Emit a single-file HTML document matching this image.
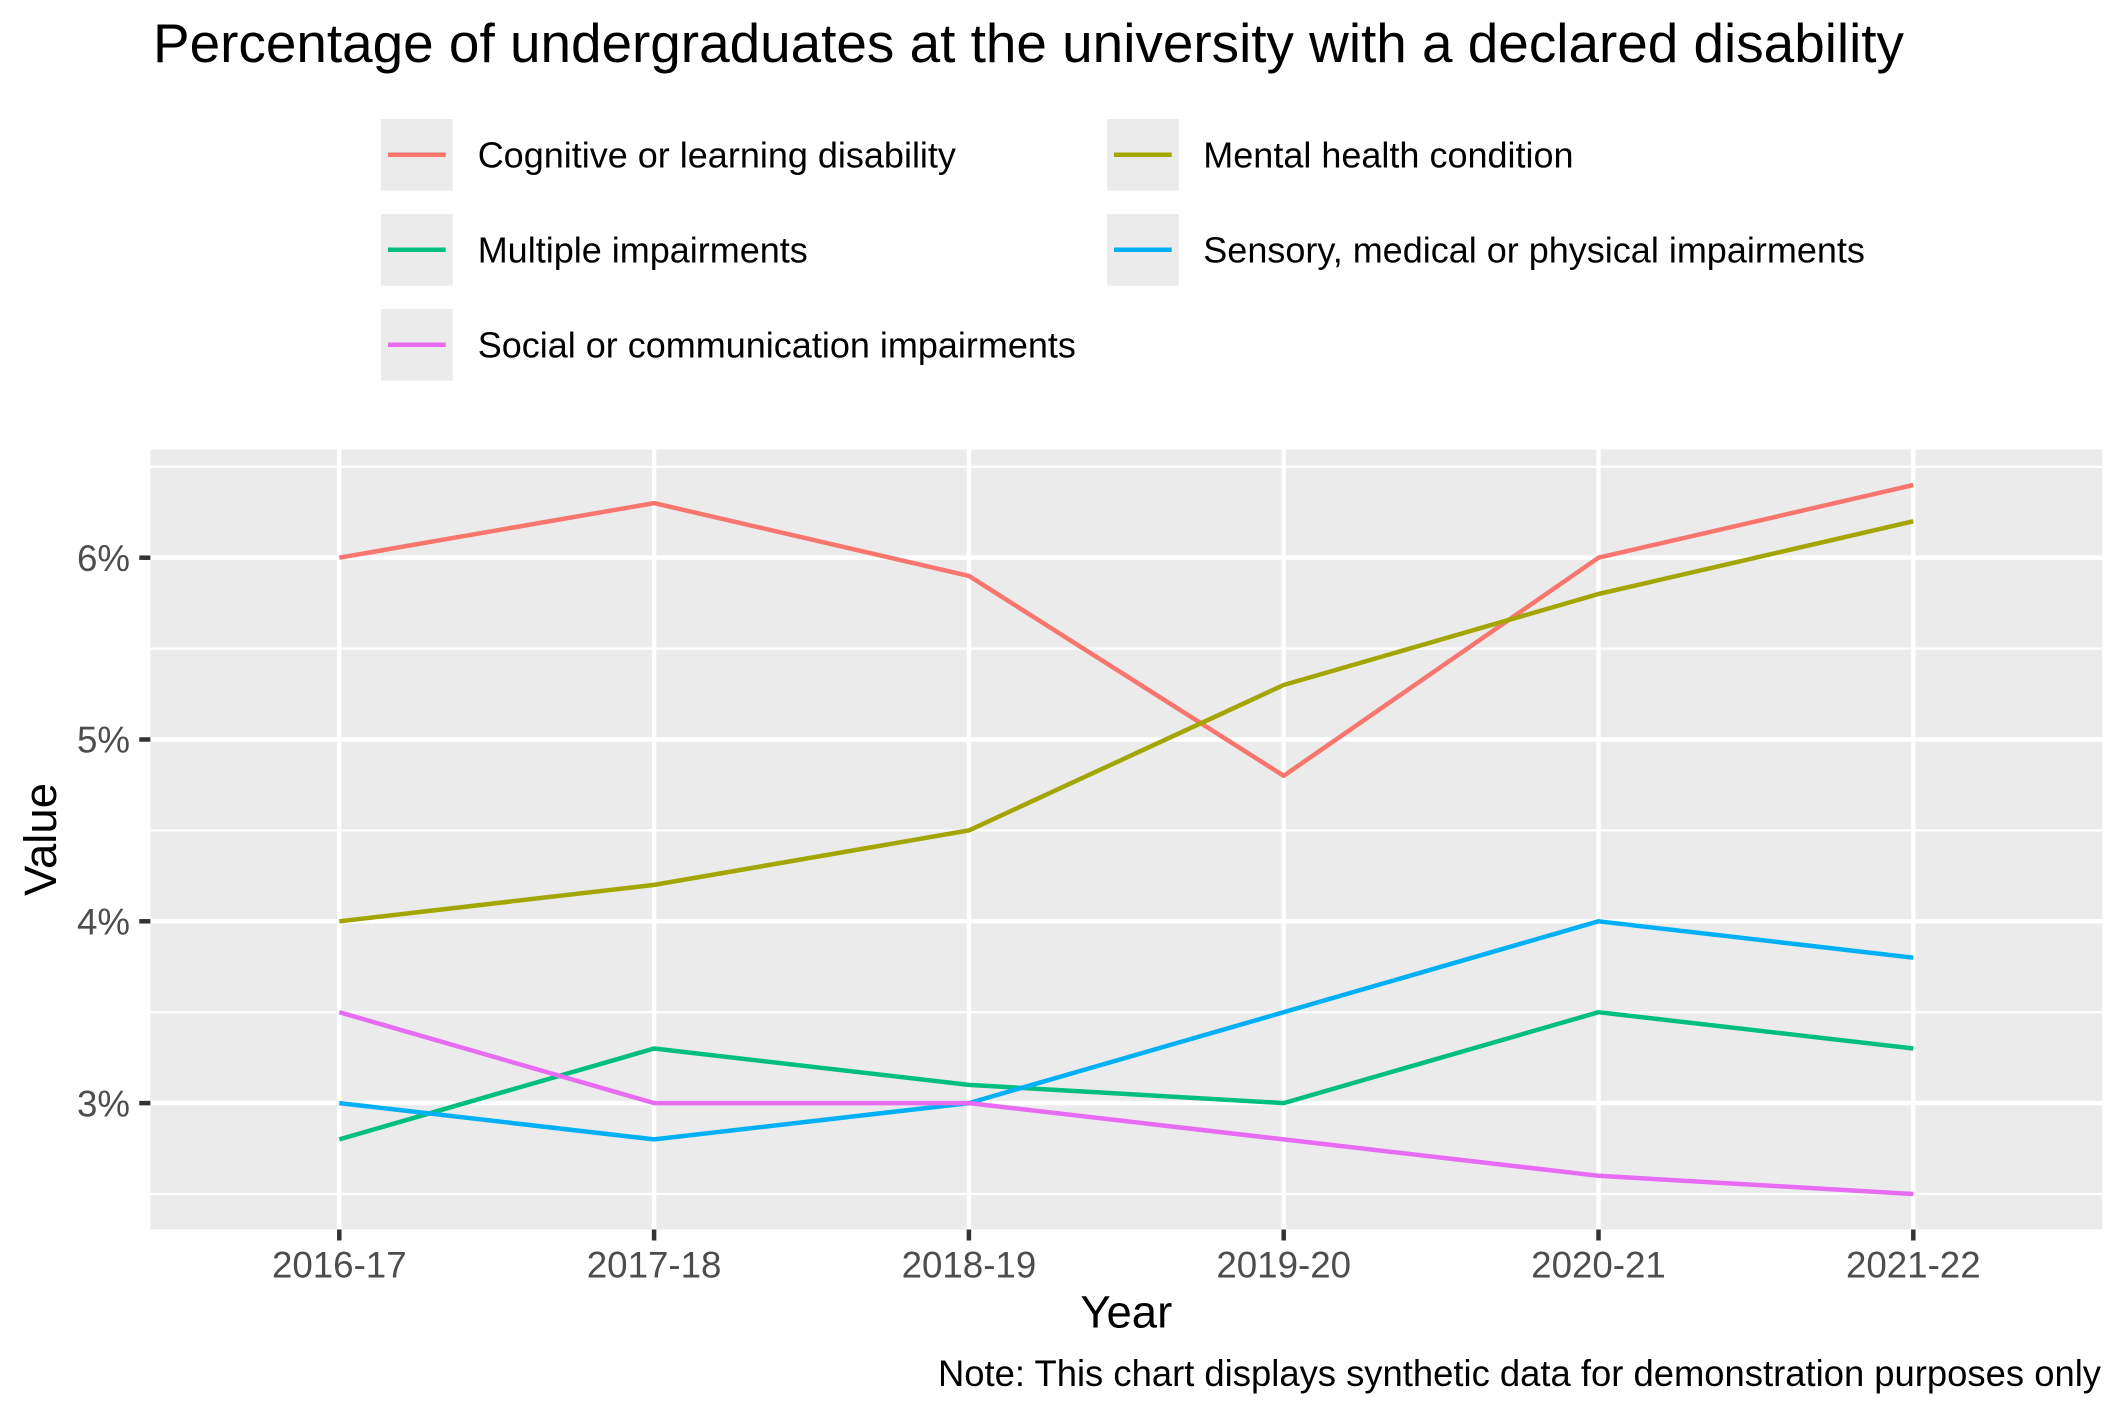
<!DOCTYPE html>
<html><head><meta charset="utf-8"><style>
html,body{margin:0;padding:0;background:#fff;}
svg{display:block;}
text{font-family:"Liberation Sans",Arial,sans-serif;}
</style></head><body>
<svg width="2125" height="1417" viewBox="0 0 2125 1417" xmlns="http://www.w3.org/2000/svg">
<rect x="0" y="0" width="2125" height="1417" fill="#fff"/>
<text x="153" y="62" font-size="54.5" fill="#000" textLength="1751" lengthAdjust="spacingAndGlyphs">Percentage of undergraduates at the university with a declared disability</text>

<!-- Legend -->
<g>
<rect x="381" y="119" width="71.7" height="71.7" fill="#EBEBEB"/>
<line x1="388" y1="154.8" x2="445.7" y2="154.8" stroke="#F8766D" stroke-width="4.5"/>
<text x="477.7" y="167.7" font-size="36" fill="#000">Cognitive or learning disability</text>
<rect x="381" y="214" width="71.7" height="71.7" fill="#EBEBEB"/>
<line x1="388" y1="249.8" x2="445.7" y2="249.8" stroke="#00BF7D" stroke-width="4.5"/>
<text x="477.7" y="262.7" font-size="36" fill="#000">Multiple impairments</text>
<rect x="381" y="309" width="71.7" height="71.7" fill="#EBEBEB"/>
<line x1="388" y1="344.8" x2="445.7" y2="344.8" stroke="#E76BF3" stroke-width="4.5"/>
<text x="477.7" y="357.7" font-size="36" fill="#000">Social or communication impairments</text>
<rect x="1107" y="119" width="71.7" height="71.7" fill="#EBEBEB"/>
<line x1="1114" y1="154.8" x2="1171.7" y2="154.8" stroke="#A3A500" stroke-width="4.5"/>
<text x="1203.3" y="167.7" font-size="36" fill="#000">Mental health condition</text>
<rect x="1107" y="214" width="71.7" height="71.7" fill="#EBEBEB"/>
<line x1="1114" y1="249.8" x2="1171.7" y2="249.8" stroke="#00B0F6" stroke-width="4.5"/>
<text x="1203.3" y="262.7" font-size="36" fill="#000">Sensory, medical or physical impairments</text>
</g>

<!-- Panel -->
<rect x="150.4" y="449.5" width="1951.8" height="780" fill="#EBEBEB"/>
<g stroke="#fff" stroke-width="2.2">
<line x1="150.4" x2="2102.2" y1="466.8" y2="466.8"/>
<line x1="150.4" x2="2102.2" y1="648.6" y2="648.6"/>
<line x1="150.4" x2="2102.2" y1="830.4" y2="830.4"/>
<line x1="150.4" x2="2102.2" y1="1012.2" y2="1012.2"/>
<line x1="150.4" x2="2102.2" y1="1194.0" y2="1194.0"/>
</g>
<g stroke="#fff" stroke-width="4.4">
<line x1="150.4" x2="2102.2" y1="557.7" y2="557.7"/>
<line x1="150.4" x2="2102.2" y1="739.5" y2="739.5"/>
<line x1="150.4" x2="2102.2" y1="921.3" y2="921.3"/>
<line x1="150.4" x2="2102.2" y1="1103.1" y2="1103.1"/>
<line y1="449.5" y2="1229.5" x1="339.3" x2="339.3"/>
<line y1="449.5" y2="1229.5" x1="654.1" x2="654.1"/>
<line y1="449.5" y2="1229.5" x1="968.9" x2="968.9"/>
<line y1="449.5" y2="1229.5" x1="1283.7" x2="1283.7"/>
<line y1="449.5" y2="1229.5" x1="1598.5" x2="1598.5"/>
<line y1="449.5" y2="1229.5" x1="1913.3" x2="1913.3"/>
</g>

<!-- Series -->
<g fill="none" stroke-width="4.5" stroke-linejoin="round" stroke-linecap="butt">
<polyline stroke="#F8766D" points="339.3,557.7 654.1,503.1 968.9,575.9 1283.7,775.8 1598.5,557.7 1913.3,485.0"/>
<polyline stroke="#A3A500" points="339.3,921.3 654.1,884.9 968.9,830.4 1283.7,685.0 1598.5,594.0 1913.3,521.3"/>
<polyline stroke="#00BF7D" points="339.3,1139.4 654.1,1048.5 968.9,1084.9 1283.7,1103.1 1598.5,1012.2 1913.3,1048.5"/>
<polyline stroke="#00B0F6" points="339.3,1103.1 654.1,1139.4 968.9,1103.1 1283.7,1012.2 1598.5,921.3 1913.3,957.7"/>
<polyline stroke="#E76BF3" points="339.3,1012.2 654.1,1103.1 968.9,1103.1 1283.7,1139.4 1598.5,1175.8 1913.3,1194.0"/>
</g>

<!-- Axes ticks -->
<g stroke="#333333" stroke-width="4.5">
<line x1="139.3" x2="150.4" y1="557.7" y2="557.7"/>
<line x1="139.3" x2="150.4" y1="739.5" y2="739.5"/>
<line x1="139.3" x2="150.4" y1="921.3" y2="921.3"/>
<line x1="139.3" x2="150.4" y1="1103.1" y2="1103.1"/>
<line y1="1229.5" y2="1240.5" x1="339.3" x2="339.3"/>
<line y1="1229.5" y2="1240.5" x1="654.1" x2="654.1"/>
<line y1="1229.5" y2="1240.5" x1="968.9" x2="968.9"/>
<line y1="1229.5" y2="1240.5" x1="1283.7" x2="1283.7"/>
<line y1="1229.5" y2="1240.5" x1="1598.5" x2="1598.5"/>
<line y1="1229.5" y2="1240.5" x1="1913.3" x2="1913.3"/>
</g>
<g font-size="36.7" fill="#4D4D4D" text-anchor="end">
<text x="130" y="570.9">6%</text>
<text x="130" y="752.7">5%</text>
<text x="130" y="934.5">4%</text>
<text x="130" y="1116.3">3%</text>
</g>
<g font-size="36.7" fill="#4D4D4D" text-anchor="middle">
<text x="339.3" y="1277.3">2016-17</text>
<text x="654.1" y="1277.3">2017-18</text>
<text x="968.9" y="1277.3">2018-19</text>
<text x="1283.7" y="1277.3">2019-20</text>
<text x="1598.5" y="1277.3">2020-21</text>
<text x="1913.3" y="1277.3">2021-22</text>
</g>
<text x="1126.3" y="1327.3" font-size="45.5" fill="#000" text-anchor="middle">Year</text>
<text transform="translate(56,839.5) rotate(-90)" font-size="45.5" fill="#000" text-anchor="middle">Value</text>
<text x="938" y="1386" font-size="36.7" fill="#000" textLength="1163" lengthAdjust="spacingAndGlyphs">Note: This chart displays synthetic data for demonstration purposes only</text>
</svg>
</body></html>
